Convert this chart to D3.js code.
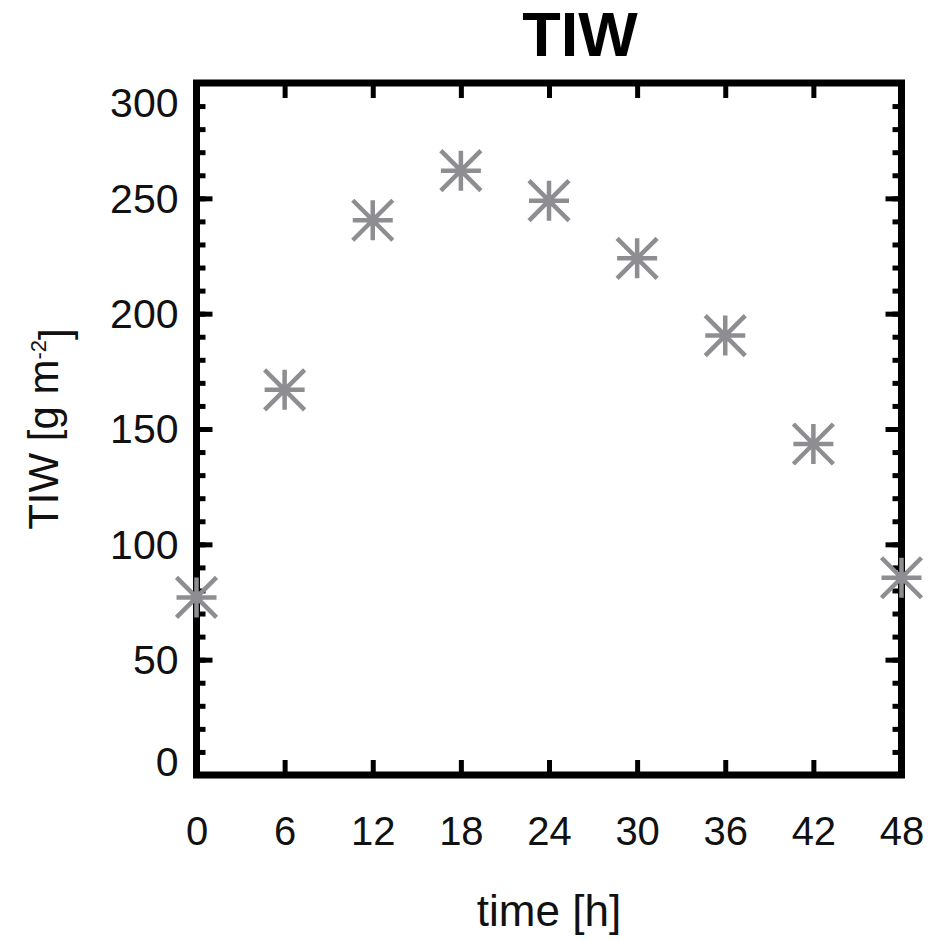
<!DOCTYPE html>
<html>
<head>
<meta charset="utf-8">
<script src="https://cdn.jsdelivr.net/npm/d3@7"></script>
<style>
  body { margin: 0; background: #fff; }
  svg { display: block; font-family: "Liberation Sans", Arial, sans-serif; }
</style>
</head>
<body>
<svg id="chart" width="941" height="940"></svg>
<script>
// data
var hours = [0, 6, 12, 18, 24, 30, 36, 42, 48];
var tiw = [77, 167, 240.5, 262, 249, 224, 190.5, 143.5, 85.5];
var xTicks = [0, 6, 12, 18, 24, 30, 36, 42, 48];
var yTicks = [0, 50, 100, 150, 200, 250, 300];
var yMinor = d3.range(0, 301, 10);

var svg = d3.select("#chart");

var x = d3.scaleLinear().domain([0, 48]).range([196.5, 901.5]);
var y = d3.scaleLinear().domain([0, 300]).range([775, 83]);

var ink = "#000";
var markColor = "#8e8e92";

// minor ticks on left and right
svg.append("g")
    .attr("transform", "translate(" + x(0) + ",0)")
    .call(d3.axisLeft(y).tickValues(yMinor).tickSize(-9).tickFormat(""))
    .call(function(g) { g.select(".domain").remove(); });
svg.append("g")
    .attr("transform", "translate(" + x(48) + ",0)")
    .call(d3.axisRight(y).tickValues(yMinor).tickSize(-9).tickFormat(""))
    .call(function(g) { g.select(".domain").remove(); });

// major y ticks with labels
var yAxis = svg.append("g")
    .attr("class", "y-axis")
    .attr("transform", "translate(" + x(0) + ",0)")
    .call(d3.axisLeft(y).tickValues(yTicks).tickSize(-16).tickPadding(18));
yAxis.select(".domain").remove();
yAxis.selectAll("text")
    .style("font-size", "41px")
    .attr("fill", "#111")
    .attr("dy", function(d) {
        // keep end labels inside the axis span
        if (d === 300) return "0.82em";
        if (d === 0) return "0.0em";
        return "0.34em";
    });

svg.append("g")
    .attr("transform", "translate(" + x(48) + ",0)")
    .call(d3.axisRight(y).tickValues(yTicks).tickSize(-16).tickFormat(""))
    .call(function(g) { g.select(".domain").remove(); });

// x ticks bottom with labels, top without
var xAxis = svg.append("g")
    .attr("transform", "translate(0," + y(0) + ")")
    .call(d3.axisBottom(x).tickValues(xTicks).tickSize(-15).tickPadding(42));
xAxis.select(".domain").remove();
xAxis.selectAll("text").style("font-size", "40px").attr("fill", "#111");

svg.append("g")
    .attr("transform", "translate(0," + y(300) + ")")
    .call(d3.axisTop(x).tickValues(xTicks).tickSize(-15).tickFormat(""))
    .call(function(g) { g.select(".domain").remove(); });

svg.selectAll(".tick line")
    .attr("stroke", ink)
    .attr("stroke-width", 5);

// frame
svg.append("rect")
    .attr("x", x(0))
    .attr("y", y(300))
    .attr("width", x(48) - x(0))
    .attr("height", y(0) - y(300))
    .attr("fill", "none")
    .attr("stroke", ink)
    .attr("stroke-width", 7);

// asterisk markers
var arm = 20;
var star = "M" + (-arm) + ",0L" + arm + ",0" +
           "M0," + (-arm) + "L0," + arm +
           "M" + (-arm) + "," + (-arm) + "L" + arm + "," + arm +
           "M" + (-arm) + "," + arm + "L" + arm + "," + (-arm);

svg.append("g")
    .selectAll("path")
    .data(hours)
    .enter().append("path")
    .attr("transform", function(d, i) { return "translate(" + x(d) + "," + y(tiw[i]) + ")"; })
    .attr("d", star)
    .attr("fill", "none")
    .attr("stroke", markColor)
    .attr("stroke-width", 4.5);

// title
svg.append("text")
    .attr("x", 580)
    .attr("y", 56)
    .attr("text-anchor", "middle")
    .style("font-size", "63px")
    .style("font-weight", "bold")
    .text("TIW");

// x label
svg.append("text")
    .attr("x", (x(0) + x(48)) / 2)
    .attr("y", 926)
    .attr("text-anchor", "middle")
    .style("font-size", "44px")
    .attr("fill", "#111")
    .text("time [h]");

// y label
var yl = svg.append("text")
    .attr("transform", "translate(58," + ((y(0) + y(300)) / 2) + ") rotate(-90)")
    .attr("text-anchor", "middle")
    .style("font-size", "42px")
    .attr("fill", "#111");
yl.append("tspan").text("TIW [g m");
yl.append("tspan").attr("dy", "-0.55em").style("font-size", "22px").text("-2");
yl.append("tspan").attr("dy", "0.55em").text("]");
</script>
</body>
</html>
